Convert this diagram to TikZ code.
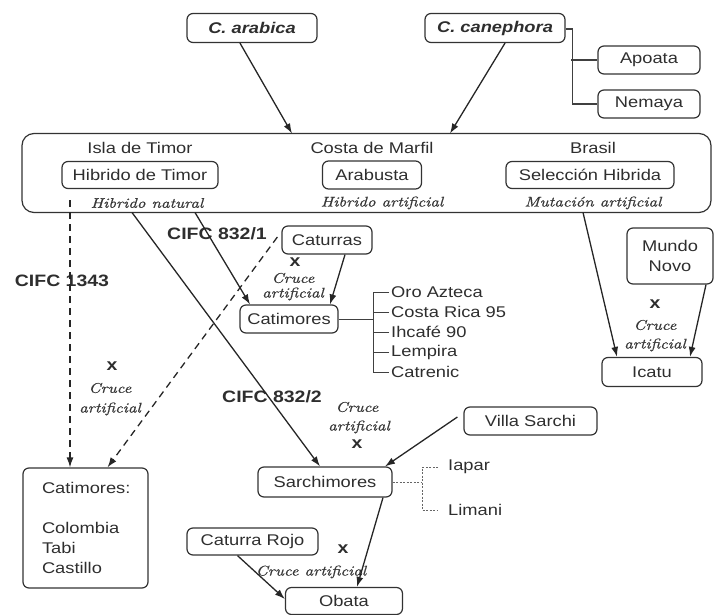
\documentclass[tikz,border=0pt]{standalone}
\usepackage{graphicx}
\usepackage{fontspec}
\setsansfont{Liberation Sans}[FakeStretch=1.18]
\newfontfamily\lmit{lmroman10-italic.otf}[FakeStretch=1.2, FakeBold=0.7]
\usetikzlibrary{arrows.meta}
\newcommand\cz[1]{{\lmit\fontsize{14}{15}\selectfont #1}}
\tikzset{
  txt/.style={text=black!82, font=\sffamily\fontsize{15.5}{20}\selectfont},
  box/.style={txt, draw=black!80, rounded corners=6pt, line width=1.2pt, inner sep=0pt},
  lab/.style={txt, inner sep=0pt},
  blab/.style={txt, inner sep=0pt, font=\sffamily\bfseries\fontsize{16.5}{18}\selectfont},
  it/.style={inner sep=0pt, text=black!78},
  ln/.style={draw=black!85, line width=1.3pt},
  arr/.style={ln, -{Latex[length=10pt,width=7pt]}},
  darr/.style={arr, dash pattern=on 7pt off 5pt},
  thin/.style={draw=black!75, line width=0.9pt},
  dotl/.style={draw=black!60, line width=0.9pt, dash pattern=on 2pt off 1.5pt},
}
\begin{document}
\begin{tikzpicture}[x=1pt,y=-1pt]
\useasboundingbox (0,0) rectangle (717,615);
% top boxes
\node[box, minimum width=130pt, minimum height=29pt] (ara) at (252,28) {\bfseries\itshape C. arabica};
\node[box, minimum width=140pt, minimum height=29pt] (cane) at (495,28) {\bfseries\itshape C. canephora};
\node[box, minimum width=102pt, minimum height=28pt] (apo) at (649,60) {Apoata};
\node[box, minimum width=102pt, minimum height=28pt] (nem) at (649,104) {Nemaya};
% big box
\node[box, rounded corners=12pt, minimum width=689pt, minimum height=79pt] (big) at (366.5,173) {};
\node[lab] (tIsla) at (140,148) {Isla de Timor};
\node[lab] (tCosta) at (372,148) {Costa de Marfil};
\node[lab] (tBras) at (593,148) {Brasil};
\node[box, minimum width=156pt, minimum height=27pt] (hdt) at (140,175) {Hibrido de Timor};
\node[box, minimum width=99pt, minimum height=28pt] (arab) at (372,175) {Arabusta};
\node[box, minimum width=168pt, minimum height=27pt] (selh) at (590,175) {Selección Hibrida};
\node[it] (n1) at (147,203) {\cz{Hibrido natural}};
\node[it] (n2) at (382,203) {\cz{Hibrido artificial}};
\node[it] (n3) at (593,203) {\cz{Mutación artificial}};
% middle boxes
\node[box, minimum width=90pt, minimum height=28pt] (cat) at (327,240) {Caturras};
\node[box, minimum width=86pt, minimum height=56pt, align=center] (mundo) at (670,256) {Mundo\\Novo};
\node[box, minimum width=98pt, minimum height=28pt] (catim) at (289,319) {Catimores};
\node[box, minimum width=100pt, minimum height=29pt] (icatu) at (652,372) {Icatu};
\node[box, minimum width=133pt, minimum height=28pt] (villa) at (530.5,421) {Villa Sarchi};
\node[box, minimum width=134pt, minimum height=30pt] (sarch) at (325,482) {Sarchimores};
\node[box, minimum width=125pt, minimum height=120pt, align=left, text width=87pt, inner xsep=19pt] (catbig) at (85.5,528) {Catimores:\\[20pt]Colombia\\Tabi\\Castillo};
\node[box, minimum width=131pt, minimum height=27pt] (rojo) at (252.5,541.5) {Caturra Rojo};
\node[box, minimum width=117pt, minimum height=27pt] (obata) at (344,601) {Obata};
% bold labels
\node[blab] (c8321) at (217,234) {CIFC 832/1};
\node[blab] (c1343) at (62,281) {CIFC 1343};
\node[blab] (c8322) at (272,397) {CIFC 832/2};
% x and cruce labels
\node[blab] (x1) at (295,262) {x};
\node[it] (k1a) at (293,278) {\cz{Cruce}};
\node[it] (k1b) at (293,294) {\cz{artificial}};
\node[blab] (x2) at (112,366) {x};
\node[it] (k2a) at (110,388) {\cz{Cruce}};
\node[it] (k2b) at (110,409) {\cz{artificial}};
\node[blab] (x3) at (655,304) {x};
\node[it] (k3a) at (655,325) {\cz{Cruce}};
\node[it] (k3b) at (655,345) {\cz{artificial}};
\node[it] (k4a) at (357,407) {\cz{Cruce}};
\node[it] (k4b) at (359,427) {\cz{artificial}};
\node[blab] (x4) at (357,444) {x};
\node[blab] (x5) at (343,549) {x};
\node[it] (k5) at (311,572) {\cz{Cruce artificial}};
% Catimores list
\coordinate (lb) at (373,319);
\foreach \t/\y/\n in {Oro Azteca/292/l1, Costa Rica 95/312/l2, Ihcafé 90/332/l3, Lempira/352/l4, Catrenic/372/l5}{
  \node[lab, anchor=west] (\n) at (391,\y) {\t};
}
\draw[thin] (catim.east) -- (lb);
\draw[thin] ([xshift=-2pt]l1.west) -- ++(-16,0) |- ([xshift=-2pt]l5.west);
\foreach \n in {l2,l3,l4}{\draw[thin] ([xshift=-2pt]\n.west) -- ++(-16,0);}
% Iapar / Limani
\node[lab, anchor=west] (iap) at (448,467) {Iapar};
\node[lab, anchor=west] (lim) at (448,510) {Limani};
\coordinate (sb) at (422,482);
\draw[dotl] (sarch.east) -- (sb);
\draw[dotl] ([xshift=-10pt]iap.west) -- (422,467) -- (422,510) -- ([xshift=-10pt]lim.west);
% top arrows
\coordinate (bt1) at (292,133.5);
\coordinate (bt2) at (450,133.5);
\draw[arr] ([xshift=-12pt]ara.south) -- (bt1);
\draw[arr] ([xshift=10pt]cane.south) -- (bt2);
\draw[thin, line width=1.1pt] ([yshift=-1pt]cane.east) -- ++(7,0) |- (nem.west);
\draw[thin, line width=1.1pt] (571,60) -- (apo.west);
% from big box
\coordinate (b1) at (70,200);
\coordinate (b2) at (132,212.5);
\coordinate (b3) at (195,212.5);
\coordinate (b4) at (583,212.5);
\draw[darr] (b1) -- (catbig.north -| b1);
\draw[arr] (b2) -- ([xshift=-5pt]sarch.north);
\draw[arr] (b3) -- ([xshift=-39pt]catim.north);
\draw[arr] (b4) -- ([xshift=-35pt]icatu.north);
\draw[darr] ([xshift=-4pt,yshift=3pt]cat.west) -- ([xshift=22pt]catbig.north);
\draw[arr] ([xshift=18pt]cat.south) -- ([xshift=41pt]catim.north);
\draw[arr] ([xshift=36pt]mundo.south) -- ([xshift=38pt]icatu.north);
\draw[arr] ([xshift=-6pt,yshift=4pt]villa.west) -- ([xshift=60pt]sarch.north);
\draw[arr] ([xshift=58pt]sarch.south) -- ([xshift=13pt]obata.north);
\draw[arr] ([xshift=-15pt]rojo.south) -- ([yshift=2pt]obata.west);
\end{tikzpicture}
\end{document}
